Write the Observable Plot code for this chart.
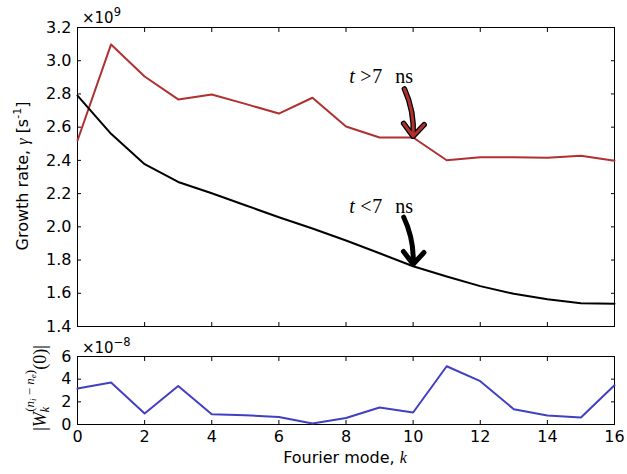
<!DOCTYPE html>
<html>
<head>
<meta charset="utf-8">
<script src="https://cdn.jsdelivr.net/npm/d3@7"></script>
<script src="https://cdn.jsdelivr.net/npm/@observablehq/plot@0.6"></script>
<style>
  body { margin: 0; background: white; }
  #chart { position: relative; width: 627px; height: 474px; }
  #chart svg { display: block; }
</style>
</head>
<body>
<div id="chart"></div>
<script>
// ---- data ----
const modes = [0,1,2,3,4,5,6,7,8,9,10,11,12,13,14,15,16];
const gammaEarly = [2.79,2.56,2.377,2.27,2.202,2.13,2.058,1.99,1.918,1.841,1.763,1.701,1.643,1.597,1.564,1.540,1.537]; // x1e9, t<7 ns
const gammaLate  = [2.52,3.098,2.905,2.767,2.797,2.74,2.682,2.777,2.604,2.538,2.538,2.401,2.419,2.419,2.416,2.428,2.398]; // x1e9, t>7 ns
const wAmp = [3.17,3.70,0.97,3.40,0.91,0.82,0.67,0.08,0.58,1.50,1.06,5.14,3.82,1.35,0.79,0.62,3.46]; // x1e-8
const topYTicks = [1.4,1.6,1.8,2.0,2.2,2.4,2.6,2.8,3.0,3.2];
const botYTicks = [0,2,4,6];
const xTicks = [0,2,4,6,8,10,12,14,16];
const annLate = {x1: 9.74, y1: 2.83, x2: 10.0, y2: 2.545, tx: 8.1, ty: 2.863, rel: ">"};
const annEarly = {x1: 9.72, y1: 2.058, x2: 10.0, y2: 1.775, tx: 8.1, ty: 2.082, rel: "<"};

const RED = "#b03030", BLUE = "#4040c0";
const rows = modes.map((k, i) => ({k, early: gammaEarly[i], late: gammaLate[i], w: wAmp[i]}));

const font = "DejaVu Sans";
const serif = "Liberation Serif";
const W = 627;

const frameAxes = (yTicks, yFmt, showX) => [
  Plot.frame({stroke: "black", strokeWidth: 1}),
  Plot.axisY({anchor: "left", ticks: yTicks, tickSize: -4, tickPadding: 10, tickFormat: yFmt, label: null}),
  Plot.axisY({anchor: "right", ticks: yTicks, tickSize: -4, tickFormat: () => "", label: null}),
  Plot.axisX({anchor: "bottom", ticks: xTicks, tickSize: -4, tickPadding: 10, tickFormat: showX ? d3.format("d") : () => "", label: null}),
  Plot.axisX({anchor: "top", ticks: xTicks, tickSize: -4, tickFormat: () => "", label: null})
];

const annText = (data, text, dx, italic) => Plot.text(data, {
  x: "tx", y: "ty", text, dx, textAnchor: "start", lineAnchor: "bottom",
  fontFamily: serif, fontStyle: italic ? "italic" : "normal", fontSize: 20
});

const topPlot = Plot.plot({
  width: W, height: 340,
  marginLeft: 77, marginRight: 13, marginTop: 27, marginBottom: 14,
  x: {domain: [0, 16]},
  y: {domain: [1.4, 3.2]},
  style: {fontFamily: font, fontSize: "16px", color: "black", background: "white", overflow: "visible"},
  marks: [
    ...frameAxes(topYTicks, d3.format(".1f"), false),
    Plot.line(rows, {x: "k", y: "late", stroke: RED, strokeWidth: 2}),
    Plot.line(rows, {x: "k", y: "early", stroke: "black", strokeWidth: 2}),
    // arrows
    Plot.arrow([annLate], {x1: "x1", y1: "y1", x2: "x2", y2: "y2", bend: 14, stroke: "black", strokeWidth: 5.5, headLength: 9, headAngle: 80}),
    Plot.arrow([annLate], {x1: "x1", y1: "y1", x2: "x2", y2: "y2", bend: 14, stroke: RED, strokeWidth: 3, headLength: 8, headAngle: 80}),
    Plot.arrow([annEarly], {x1: "x1", y1: "y1", x2: "x2", y2: "y2", bend: 14, stroke: "black", strokeWidth: 5, headLength: 9, headAngle: 80}),
    // annotation texts
    annText([annLate, annEarly], () => "t", 0, true),
    annText([annLate, annEarly], "rel", 11, false),
    annText([annLate, annEarly], () => "7", 23, false),
    annText([annLate, annEarly], () => "ns", 46, false)
  ]
});

const botPlot = Plot.plot({
  width: W, height: 134,
  marginLeft: 77, marginRight: 13, marginTop: 16, marginBottom: 50,
  x: {domain: [0, 16]},
  y: {domain: [0, 6]},
  style: {fontFamily: font, fontSize: "16px", color: "black", background: "white", overflow: "visible"},
  marks: [
    ...frameAxes(botYTicks, d3.format("d"), true),
    Plot.line(rows, {x: "k", y: "w", stroke: BLUE, strokeWidth: 2})
  ]
});

const chart = document.getElementById("chart");
chart.appendChild(topPlot);
chart.appendChild(botPlot);

// ---- labels (real text) ----
function addText(svg, attrs, parts) {
  const t = d3.select(svg).append("text");
  for (const [k, v] of Object.entries(attrs)) t.attr(k, v);
  for (const p of parts) {
    const s = t.append("tspan").text(p.text);
    if (p.style) s.attr("font-style", p.style);
    if (p.family) s.attr("font-family", p.family);
    if (p.size) s.attr("font-size", p.size);
    if (p.dy) s.attr("dy", p.dy);
    if (p.dx) s.attr("dx", p.dx);
  }
  return t;
}
// exponent offsets
addText(topPlot, {x: 82, y: 23, "text-anchor": "start", "font-family": font, "font-size": 15, fill: "black"},
  [{text: "×10"}, {text: "9", size: 11.5, dy: -7}]);
addText(botPlot, {x: 82, y: 12.5, "text-anchor": "start", "font-family": font, "font-size": 15, fill: "black"},
  [{text: "×10"}, {text: "−8", size: 11.5, dy: -7}]);
// y label top
addText(topPlot, {transform: "translate(28,176) rotate(-90)", "text-anchor": "middle", "font-family": font, "font-size": 16, fill: "black"},
  [{text: "Growth rate, "}, {text: "γ", style: "italic", family: serif}, {text: " [s"}, {text: "-1", size: 11, dy: -7}, {text: "]", dy: 7}]);
// y label bottom
addText(botPlot, {transform: "translate(46,48) rotate(-90)", "text-anchor": "middle", "font-family": serif, "font-size": 18, fill: "black"},
  [{text: "|"}, {text: "W", style: "italic"}, {text: "k", style: "italic", size: 12, dy: 3},
   {text: "(", size: 13, dy: -15, dx: -5}, {text: "n", style: "italic", size: 13}, {text: "i", style: "italic", size: 9, dy: 2},
   {text: " − ", size: 13, dy: -2}, {text: "n", style: "italic", size: 13}, {text: "e", style: "italic", size: 9, dy: 2},
   {text: ")", size: 13, dy: -2}, {text: "(0)|", dy: 12}]);
// x label
addText(botPlot, {x: 345, y: 123, "text-anchor": "middle", "font-family": font, "font-size": 16, fill: "black"},
  [{text: "Fourier mode, "}, {text: "k", style: "italic", family: serif}]);
</script>
</body>
</html>
